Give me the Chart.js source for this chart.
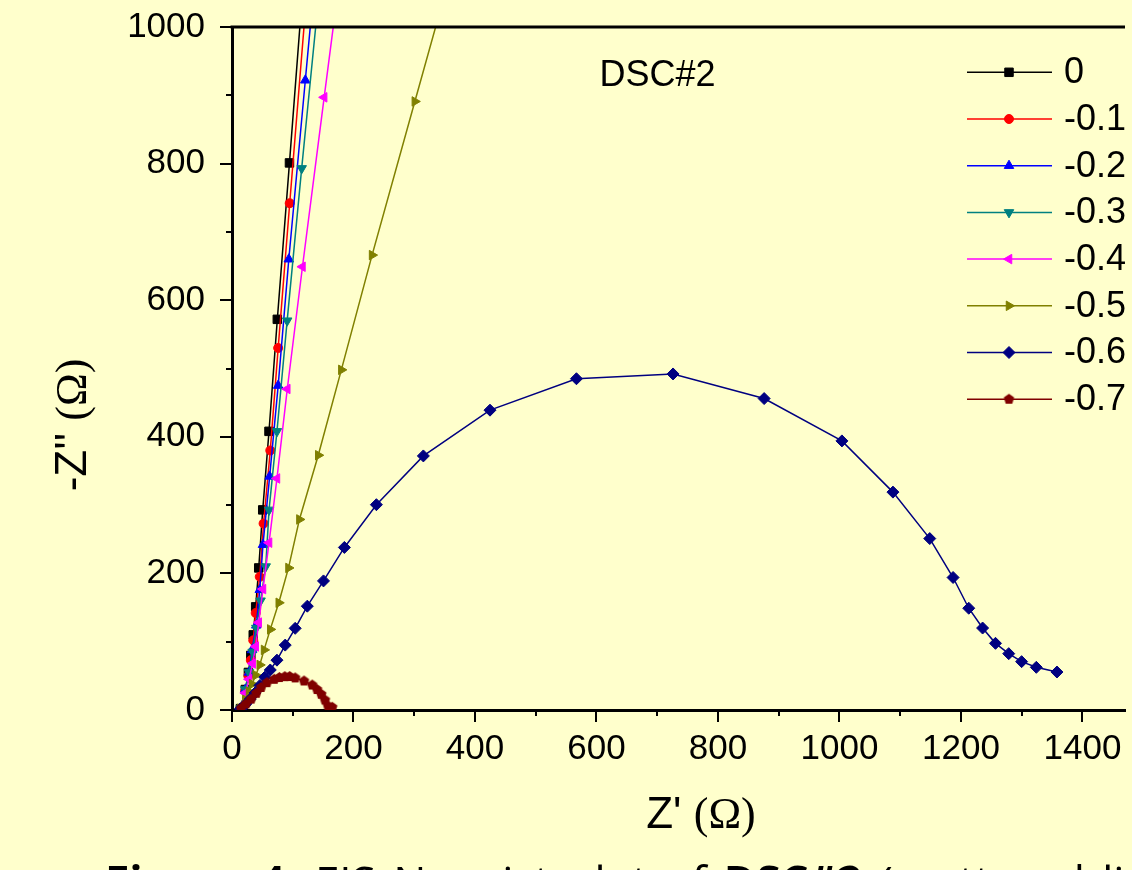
<!DOCTYPE html>
<html>
<head>
<meta charset="utf-8">
<script src="https://cdn.jsdelivr.net/npm/chart.js@4.4.0/dist/chart.umd.min.js"></script>
<style>
  html, body { margin: 0; padding: 0; background: #ffffcc; overflow: hidden; }
  #wrap { position: relative; width: 1132px; height: 870px; }
  #caption {
    position: absolute; left: 105px; top: 851px;
    font: 44px "Open Sans", sans-serif; white-space: nowrap; color: #000;
    word-spacing: 6px;
  }
</style>
</head>
<body>
<div id="wrap">
  <canvas id="chart" width="1132" height="870"></canvas>
  <div id="caption"><b>Figure 4:</b> EIS Nyquist plot of <b>DSC#2</b> (scattered lines)</div>
</div>
<script>
const biasLabels = ['0', '-0.1', '-0.2', '-0.3', '-0.4', '-0.5', '-0.6', '-0.7'];
const xTicks = [0, 200, 400, 600, 800, 1000, 1200, 1400];
const yTicks = [0, 200, 400, 600, 800, 1000];

// Z' (ohm) and -Z'' (ohm), one pair per bias
const re0 = [14, 22, 27, 31, 35, 39, 44, 50.6, 60.9, 74.6, 94.6, 122];
const im0 = [2, 30, 55, 80, 110, 151, 208, 293, 408, 572, 801, 1120];

const re1 = [14, 22, 27, 31, 35, 39, 45.7, 52, 63, 76, 95, 124];
const im1 = [2, 28, 50, 73, 102, 142, 195, 273, 380, 530, 742, 1060];

const re2 = [14, 22, 28, 33, 40, 45.7, 51, 62, 76, 93.5, 120.7, 159];
const im2 = [2, 30, 55, 88, 124, 176, 242, 342, 475, 660, 922, 1290];

const re3 = [14, 22, 28, 34, 40, 47, 55.5, 61, 74, 90.8, 114.7, 150];
const im3 = [2, 30, 55, 85, 120, 160, 210, 293, 408, 570, 793, 1110];

const re4 = [14, 22, 28, 34, 39, 44, 51, 61, 74, 91, 116, 151.7, 203];
const im4 = [2, 25, 45, 68, 93, 128, 177, 245, 339, 470, 649, 897, 1250];

const re5 = [14, 22, 28, 33, 39, 45.7, 52.8, 63, 77, 93, 111, 142, 180, 230.6, 301, 398];
const im5 = [2, 15, 27, 38, 51, 66, 88, 118, 157, 208, 279, 373, 498, 666, 891, 1200];

const re6 = [14, 22, 30, 38, 46, 54, 63, 74, 87.6, 104, 124, 150.6, 185, 237.7, 315, 424.7,
             567, 726, 876, 1004, 1088, 1148.6, 1187, 1212.8, 1235.6, 1256.8, 1278.6, 1299.8, 1324, 1358];
const im6 = [2, 8, 16, 25, 36, 48, 58.6, 73, 95, 119.6, 152, 189, 238, 300.6, 372, 439,
             485, 492, 456, 394, 319, 251, 194, 149, 120, 97.6, 82.5, 70.8, 62.5, 55.6];

const re7 = [15, 23, 31.5, 40, 48, 57.6, 69.6, 78, 87, 95, 104, 118.6, 132, 140, 147, 153, 158, 165];
const im7 = [2.5, 8.8, 16, 24.5, 33, 40, 45, 47.5, 48.8, 49, 47, 42.5, 36.6, 30, 23, 14.6, 5.9, 4];

const reAll = [re0, re1, re2, re3, re4, re5, re6, re7];
const imAll = [im0, im1, im2, im3, im4, im5, im6, im7];

const colors = ['#000000', '#ff0000', '#0000ff', '#008080', '#ff00ff', '#808000', '#000080', '#800000'];

function pentagon(color, r) {
  const c = document.createElement('canvas');
  const s = Math.ceil(r * 2 + 2);
  c.width = c.height = s;
  const g = c.getContext('2d');
  g.fillStyle = color;
  g.beginPath();
  for (let i = 0; i < 5; i++) {
    const a = -Math.PI / 2 + i * 2 * Math.PI / 5;
    g.lineTo(s / 2 + r * Math.cos(a), s / 2 + r * Math.sin(a));
  }
  g.closePath();
  g.fill();
  return c;
}

const markers = [
  { style: 'rect', rot: 0, r: 6 },
  { style: 'circle', rot: 0, r: 4.5 },
  { style: 'triangle', rot: 0, r: 5.5 },
  { style: 'triangle', rot: 180, r: 5.5 },
  { style: 'triangle', rot: -90, r: 5.5 },
  { style: 'triangle', rot: 90, r: 5.5 },
  { style: 'rectRot', rot: 0, r: 6 },
  { style: pentagon('#800000', 5.5), rot: 0, r: 5.5 }
];

const datasets = biasLabels.map((label, i) => ({
  label,
  data: reAll[i].map((x, k) => ({ x, y: imAll[i][k] })),
  showLine: true,
  borderColor: colors[i],
  backgroundColor: colors[i],
  borderWidth: 1.5,
  pointStyle: markers[i].style,
  pointRotation: markers[i].rot,
  pointRadius: markers[i].r,
  pointBorderWidth: 1,
  pointBorderColor: colors[i],
  pointBackgroundColor: colors[i],
  order: biasLabels.length - i
}));

// frame top edge, tick marks, titles, annotation, legend
const decor = {
  id: 'decor',
  afterDraw(chart) {
    const { ctx, chartArea: a, scales: { x, y } } = chart;
    ctx.save();
    ctx.strokeStyle = '#000';
    ctx.lineWidth = 3;
    ctx.beginPath();
    ctx.moveTo(a.left - 1.5, a.top);
    ctx.lineTo(a.right, a.top);
    ctx.stroke();

    ctx.lineWidth = 2;
    for (let v = 0; v <= x.max; v += 100) {
      const px = Math.round(x.getPixelForValue(v));
      const len = v % 200 === 0 ? 12 : 6;
      ctx.beginPath();
      ctx.moveTo(px, a.bottom);
      ctx.lineTo(px, a.bottom + len);
      ctx.stroke();
    }
    for (let v = 0; v <= y.max; v += 100) {
      const py = Math.round(y.getPixelForValue(v));
      const len = v % 200 === 0 ? 12 : 6;
      ctx.beginPath();
      ctx.moveTo(a.left, py);
      ctx.lineTo(a.left - len, py);
      ctx.stroke();
    }

    // axis titles: sans letters, serif omega
    const sans = '44px "Liberation Sans", Arial, sans-serif';
    const serif = '44px "Liberation Serif", "Times New Roman", serif';
    ctx.fillStyle = '#000';
    ctx.textBaseline = 'middle';
    ctx.textAlign = 'left';
    function title(p1, p2, cx, cy, rot) {
      ctx.save();
      ctx.translate(cx, cy);
      ctx.rotate(rot);
      ctx.font = sans;
      const w1 = ctx.measureText(p1).width;
      ctx.font = serif;
      const w2 = ctx.measureText(p2).width;
      const x0 = -(w1 + w2) / 2;
      ctx.font = sans;
      ctx.fillText(p1, x0, 0);
      ctx.font = serif;
      ctx.fillText(p2, x0 + w1, 0);
      ctx.restore();
    }
    title("Z' ", '(\u03A9)', 701, 816, 0);
    title("-Z'' ", '(\u03A9)', 74, 425, -Math.PI / 2);

    ctx.font = '36px "Liberation Sans", Arial, sans-serif';
    ctx.fillText('DSC#2', x.getPixelForValue(605), y.getPixelForValue(928));

    // legend
    const drawPoint = Chart.helpers.drawPoint;
    chart.data.datasets.forEach((ds, i) => {
      const ly = 72.3 + i * 46.7;
      ctx.strokeStyle = ds.borderColor;
      ctx.fillStyle = ds.backgroundColor;
      ctx.lineWidth = 1.5;
      ctx.beginPath();
      ctx.moveTo(967, ly);
      ctx.lineTo(1052, ly);
      ctx.stroke();
      ctx.lineWidth = 1;
      drawPoint(ctx, { pointStyle: ds.pointStyle, rotation: ds.pointRotation, radius: ds.pointRadius, borderWidth: 1 }, 1009, ly);
      ctx.fillStyle = '#000';
      ctx.fillText(ds.label, 1064, ly + 1);
    });
    ctx.restore();
  }
};

const tickFont = { family: '"Liberation Sans", Arial, sans-serif', size: 35 };

new Chart(document.getElementById('chart'), {
  type: 'scatter',
  data: { datasets },
  options: {
    responsive: false,
    animation: false,
    devicePixelRatio: 1,
    layout: { padding: { top: 27, right: 0, left: 0, bottom: 0 } },
    plugins: { legend: { display: false }, tooltip: { enabled: false } },
    scales: {
      x: {
        type: 'linear',
        min: 0,
        max: 1470,
        afterFit(s) {
          s.height = 160;
          s.paddingLeft = 0;
          s.paddingRight = 0;
        },
        afterBuildTicks(s) { s.ticks = xTicks.map(v => ({ value: v })); },
        grid: { display: false, drawTicks: false },
        border: { display: true, color: '#000', width: 3 },
        ticks: {
          padding: 18,
          color: '#000',
          maxRotation: 0,
          autoSkip: false,
          callback: v => String(v),
          font: tickFont
        }
      },
      y: {
        type: 'linear',
        min: 0,
        max: 1000,
        afterFit(s) {
          s.width = 232;
          s.paddingTop = 0;
          s.paddingBottom = 0;
        },
        afterBuildTicks(s) { s.ticks = yTicks.map(v => ({ value: v })); },
        grid: { display: false, drawTicks: false },
        border: { display: true, color: '#000', width: 3 },
        ticks: {
          padding: 27,
          color: '#000',
          autoSkip: false,
          callback: v => String(v),
          font: tickFont
        }
      }
    }
  },
  plugins: [decor]
});
</script>
</body>
</html>
